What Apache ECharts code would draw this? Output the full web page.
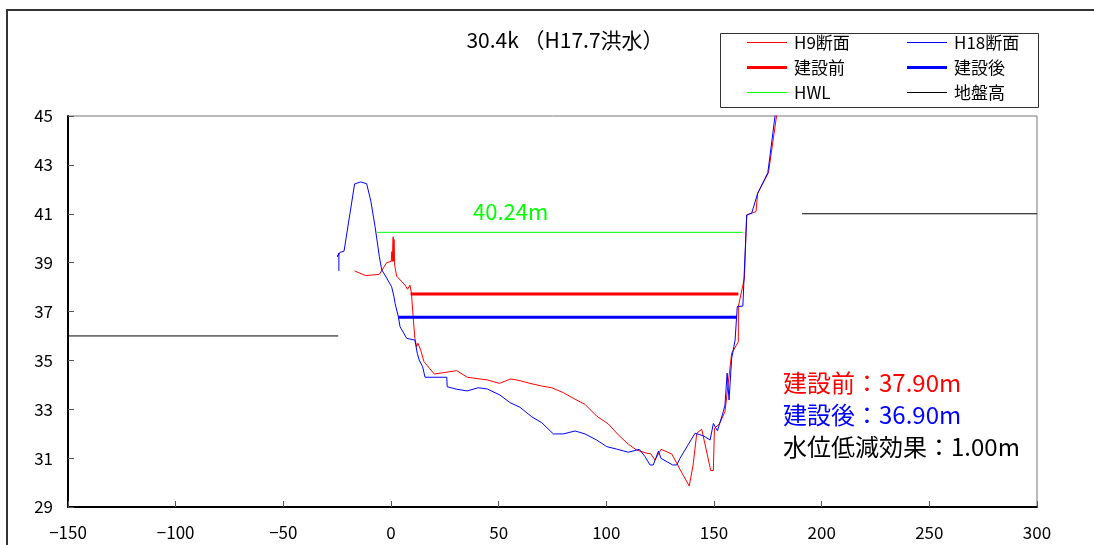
<!DOCTYPE html>
<html>
<head>
<meta charset="utf-8">
<script src="https://cdn.jsdelivr.net/npm/echarts@6/dist/echarts.min.js"></script>
<style>
html,body{margin:0;padding:0;background:#fff;}
#chart{width:1094px;height:545px;}
</style>
</head>
<body>
<div id="chart"></div>
<script>
// ---- data ----
const TITLE = '30.4k （H17.7洪水）';
const X_TICKS = [-150, -100, -50, 0, 50, 100, 150, 200, 250, 300];
const Y_TICKS = [29, 31, 33, 35, 37, 39, 41, 43, 45];

const H9_X = [-16.9, -11.8, -5.4, -2.0, -1.3, 0.1, 0.4, 0.6, 1.0, 1.2, 1.4, 1.7, 2.6, 6.5, 7.7, 8.5, 8.8, 9.5, 10.4, 11.1, 11.9, 12.5, 13.1, 13.8, 15.3, 20.1, 30.5, 35.4, 44.7, 50.3, 55.6, 59.9, 64.5, 70.0, 74.6, 80.0, 85.5, 90.1, 95.5, 100.9, 105.6, 110.2, 114.1, 118.8, 120.6, 122.6, 125.4, 130.4, 132.7, 134.2, 135.7, 138.5, 140.3, 142.0, 144.3, 148.5, 149.7, 150.2, 152.5, 155.1, 158.2, 161.3, 161.3, 164.1, 165.2, 169.5, 170.3, 175.3, 179.2];
const H9_Y = [38.66, 38.47, 38.52, 39.0, 39.04, 39.05, 39.45, 39.05, 40.06, 39.05, 39.95, 38.9, 38.45, 38.08, 37.91, 37.92, 38.08, 37.75, 36.65, 35.90, 35.56, 35.70, 35.63, 35.42, 34.95, 34.44, 34.58, 34.31, 34.20, 34.06, 34.24, 34.17, 34.06, 33.95, 33.88, 33.68, 33.41, 33.20, 32.72, 32.40, 31.95, 31.57, 31.33, 31.20, 31.18, 30.92, 31.36, 31.17, 30.79, 30.54, 30.30, 29.86, 30.72, 32.02, 32.18, 30.49, 30.49, 32.22, 32.40, 32.90, 35.29, 35.76, 37.20, 38.36, 40.95, 41.09, 41.84, 42.68, 45.10];

const H18_X = [-24.2, -24.2, -24.9, -23.7, -21.8, -16.9, -14.1, -11.3, -9.3, -7.4, -5.4, -4.3, -2.8, 0.3, 1.4, 1.9, 3.4, 4.2, 7.3, 11.1, 12.2, 13.1, 14.7, 15.8, 25.9, 26.1, 30.5, 35.4, 40.5, 44.7, 50.6, 55.3, 59.9, 65.4, 70.0, 75.4, 80.0, 85.5, 90.1, 95.5, 100.2, 104.8, 110.2, 115.3, 118.0, 120.3, 121.8, 124.2, 125.4, 130.8, 132.7, 134.2, 141.2, 145.1, 148.2, 149.7, 151.6, 154.3, 155.1, 156.1, 157.0, 158.2, 159.8, 160.8, 163.4, 165.2, 167.5, 170.3, 175.0, 178.4];
const H18_Y = [38.66, 39.39, 39.24, 39.42, 39.47, 42.22, 42.30, 42.23, 41.49, 40.47, 39.24, 38.70, 38.49, 38.01, 37.60, 37.33, 36.79, 36.38, 35.90, 35.83, 35.29, 35.01, 34.74, 34.31, 34.31, 33.92, 33.82, 33.75, 33.88, 33.83, 33.58, 33.27, 33.08, 32.69, 32.45, 31.99, 31.99, 32.11, 31.99, 31.74, 31.47, 31.37, 31.24, 31.36, 31.06, 30.72, 30.72, 31.29, 30.99, 30.72, 30.72, 30.99, 32.02, 31.91, 31.74, 32.42, 32.12, 32.90, 33.17, 34.48, 33.38, 35.08, 35.83, 37.20, 37.22, 40.95, 41.02, 41.84, 42.68, 45.04];

const HWL_X = [-6.5, 163.3];
const HWL_Y = 40.24;
const BEFORE_X = [9.1, 161.3];
const BEFORE_Y = 37.72;
const AFTER_X = [3.4, 160.6];
const AFTER_Y = 36.76;
const GROUND_L_X = [-150, -24.5];
const GROUND_L_Y = 36.0;
const GROUND_R_X = [190.9, 300];
const GROUND_R_Y = 41.0;

const LEGEND_NAMES = ['H9断面', 'H18断面', '建設前', '建設後', 'HWL', '地盤高'];
const HWL_LABEL = '40.24m';
const NOTE_BEFORE = '建設前：37.90m';
const NOTE_AFTER = '建設後：36.90m';
const NOTE_EFFECT = '水位低減効果：1.00m';

// ---- build ----
const zip = (xs, ys) => xs.map((x, i) => [x, Array.isArray(ys) ? ys[i] : ys]);
const FONT = '"Noto Sans CJK JP", sans-serif';

const chart = echarts.init(document.getElementById('chart'));
const line = (name, color, data, w) => ({
  name, type: 'line', data, symbol: 'none', showSymbol: false, silent: true,
  lineStyle: { color, width: w }, itemStyle: { color }, animation: false, z: 3
});

// legend layout: 2 columns x 3 rows
const legendPos = [
  { left: 747, cy: 46, h: 1 }, { left: 907, cy: 46, h: 1 },
  { left: 747, cy: 71, h: 3 }, { left: 907, cy: 71, h: 3 },
  { left: 747, cy: 96, h: 1 }, { left: 907, cy: 96, h: 1 }
];
const legends = LEGEND_NAMES.map((n, i) => ({
  left: legendPos[i].left, top: legendPos[i].cy - 12, height: 24,
  orient: 'horizontal', icon: 'rect', itemWidth: 40, itemHeight: legendPos[i].h,
  selectedMode: false, padding: 0,
  textStyle: { fontFamily: FONT, fontSize: 17, color: '#000', padding: [0, 0, 0, 2] },
  data: [n]
}));

chart.setOption({
  animation: false,
  backgroundColor: '#fff',
  title: {
    text: TITLE, left: 560, top: 25, textAlign: 'center',
    textStyle: { fontFamily: FONT, fontSize: 21, fontWeight: 'normal', color: '#000' }
  },
  grid: { left: 68, right: 57, top: 116, bottom: 38, show: true, borderColor: '#777', borderWidth: 1 },
  xAxis: {
    type: 'value', min: X_TICKS[0], max: X_TICKS[X_TICKS.length - 1], interval: 50,
    axisLine: { show: true, onZero: false, lineStyle: { color: '#000', width: 2 } },
    axisTick: { show: true, inside: true, length: 6, lineStyle: { color: '#555' } },
    splitLine: { show: false },
    axisLabel: {
      margin: 17, color: '#000', fontFamily: FONT, fontSize: 17,
      formatter: v => String(v).replace('-', '−')
    }
  },
  yAxis: {
    type: 'value', min: Y_TICKS[0], max: Y_TICKS[Y_TICKS.length - 1], interval: 1,
    axisLine: { show: true, onZero: false, lineStyle: { color: '#000', width: 2 } },
    axisTick: { show: true, inside: true, length: 6, customValues: Y_TICKS, lineStyle: { color: '#555' } },
    splitLine: { show: false },
    axisLabel: {
      customValues: Y_TICKS, margin: 15, color: '#000', fontFamily: FONT, fontSize: 17,
      formatter: v => (Y_TICKS.indexOf(v) >= 0 ? String(v) : '')
    }
  },
  legend: legends,
  series: [
    line('H9断面', '#ff0000', zip(H9_X, H9_Y), 1),
    line('H18断面', '#0000ff', zip(H18_X, H18_Y), 1),
    line('建設前', '#ff0000', zip(BEFORE_X, BEFORE_Y), 3),
    line('建設後', '#0000ff', zip(AFTER_X, AFTER_Y), 3),
    line('HWL', '#00ff00', zip(HWL_X, HWL_Y), 1),
    line('地盤高', '#000000', zip(GROUND_L_X, GROUND_L_Y), 1),
    line('地盤高', '#000000', zip(GROUND_R_X, GROUND_R_Y), 1)
  ],
  graphic: [
    { type: 'polyline', shape: { points: [[7, 545], [7, 10], [1094, 10]] }, style: { stroke: '#333', lineWidth: 2, fill: null }, z: 0 },
    { type: 'rect', shape: { x: 720.5, y: 33.5, width: 318, height: 74 }, style: { stroke: '#333', lineWidth: 1, fill: 'rgba(0,0,0,0)' }, z: 10 },
    { type: 'text', x: 473, y: 212, style: { text: HWL_LABEL, fill: '#00ff00', font: '22px ' + FONT, verticalAlign: 'middle' }, z: 10 },
    { type: 'text', x: 783, y: 383, style: { text: NOTE_BEFORE, fill: '#ff0000', font: '24px ' + FONT, verticalAlign: 'middle' }, z: 10 },
    { type: 'text', x: 783, y: 415, style: { text: NOTE_AFTER, fill: '#0000ff', font: '24px ' + FONT, verticalAlign: 'middle' }, z: 10 },
    { type: 'text', x: 783, y: 447, style: { text: NOTE_EFFECT, fill: '#000', font: '24px ' + FONT, verticalAlign: 'middle' }, z: 10 }
  ]
});
</script>
</body>
</html>
